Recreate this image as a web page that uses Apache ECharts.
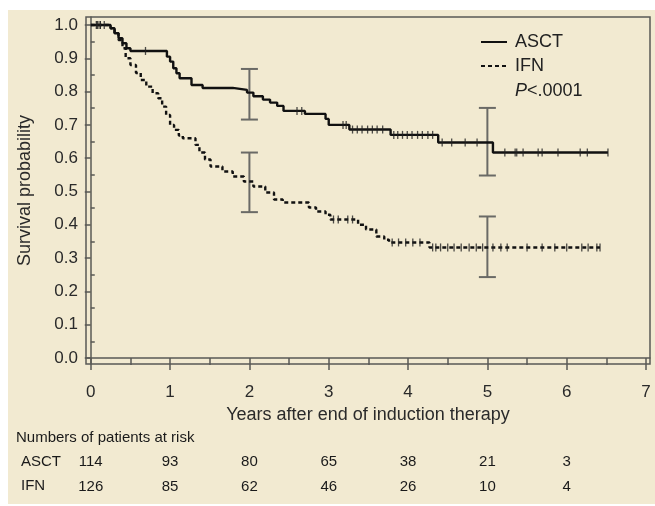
<!DOCTYPE html>
<html>
<head>
<meta charset="utf-8">
<script src="https://cdn.jsdelivr.net/npm/echarts@6/dist/echarts.min.js"></script>
<style>
  html, body { margin: 0; padding: 0; background: #fff; }
  #chart { position: absolute; left: 8px; top: 10px; width: 647px; height: 494px; background: #f2ead1; }
</style>
</head>
<body>
<div id="chart"></div>
<script>
// Kaplan-Meier steps: [years, survival after the event]
var asctSteps = [[0,1],[0.25,0.99],[0.3,0.975],[0.35,0.96],[0.4,0.945],[0.45,0.93],[0.5,0.922],
  [0.96,0.905],[1.0,0.89],[1.04,0.87],[1.08,0.855],[1.12,0.84],[1.27,0.82],[1.41,0.811],
  [1.79,0.805],[1.97,0.797],[2.05,0.786],[2.17,0.776],[2.26,0.767],[2.35,0.757],[2.43,0.742],
  [2.7,0.733],[2.96,0.718],[3.0,0.70],[3.26,0.686],[3.78,0.67],[4.38,0.647],[5.07,0.617],[6.52,0.617]];
var ifnSteps = [[0,1],[0.25,0.99],[0.3,0.975],[0.35,0.955],[0.4,0.93],[0.44,0.90],[0.5,0.88],
  [0.57,0.856],[0.63,0.835],[0.7,0.815],[0.78,0.795],[0.85,0.78],[0.9,0.755],[0.95,0.73],
  [1.0,0.70],[1.05,0.685],[1.11,0.668],[1.16,0.66],[1.32,0.64],[1.37,0.617],[1.44,0.596],
  [1.51,0.575],[1.66,0.56],[1.79,0.545],[1.93,0.53],[2.05,0.515],[2.2,0.497],[2.31,0.476],
  [2.42,0.467],[2.75,0.452],[2.84,0.44],[2.96,0.43],[3.02,0.416],[3.37,0.40],[3.47,0.386],
  [3.6,0.365],[3.7,0.355],[3.76,0.347],[4.27,0.332],[6.42,0.332]];

// censored observations (years)
var asctCensor = [0.07,0.09,0.12,0.17,0.69,2.6,2.66,3.18,3.22,3.3,3.36,3.42,3.49,3.55,3.61,3.68,
  3.82,3.87,3.93,3.99,4.05,4.12,4.18,4.25,4.31,4.43,4.55,4.72,4.87,5.22,5.35,5.37,5.45,5.64,
  5.69,5.89,6.17,6.26,6.52];
var ifnCensor = [0.08,0.12,3.06,3.12,3.24,3.3,3.8,3.88,3.97,4.06,4.15,4.31,4.35,4.41,4.5,4.58,
  4.67,4.77,4.86,4.94,5.07,5.17,5.25,5.5,5.69,5.85,6.0,6.19,6.27,6.38,6.42];

// confidence intervals: [years, low, high]
var asctCI = [[2,0.716,0.868],[5,0.548,0.751]];
var ifnCI = [[2,0.438,0.617],[5,0.243,0.425]];

var xTicks = [0,1,2,3,4,5,6,7];
var xMinor = [0.5,1.5,2.5,3.5,4.5,5.5,6.5];
var yTicks = [0,0.1,0.2,0.3,0.4,0.5,0.6,0.7,0.8,0.9,1.0];
var yMinor = [0.05,0.15,0.25,0.35,0.45,0.55,0.65,0.75,0.85,0.95];

var riskYears = [0,1,2,3,4,5,6];
var asctRisk = [114,93,80,65,38,21,3];
var ifnRisk = [126,85,62,46,26,10,4];

var FONT = "'Liberation Sans', Arial, sans-serif";
var AXIS = '#5a5a55';

function survAt(steps, t) {
  var s = steps[0][1];
  for (var i = 0; i < steps.length; i++) {
    if (steps[i][0] <= t) s = steps[i][1];
  }
  return s;
}

function riskAxis(offset, counts) {
  return {
    type: 'value', min: -0.06, max: 7.05, position: 'bottom', offset: offset,
    axisLine: { show: false }, axisTick: { show: false }, splitLine: { show: false },
    axisLabel: {
      customValues: riskYears, margin: 0, fontSize: 15, color: '#1a1a1a', fontFamily: FONT,
      formatter: function (v) { return String(counts[Math.round(v)]); }
    }
  };
}

function ciSeries(data) {
  return {
    type: 'custom', data: data, z: 3, silent: true,
    renderItem: function (params, api) {
      var lo = api.coord([api.value(0), api.value(1)]);
      var hi = api.coord([api.value(0), api.value(2)]);
      var w = 8.5;
      var st = { stroke: '#6a6a66', lineWidth: 2 };
      return {
        type: 'group',
        children: [
          { type: 'line', shape: { x1: lo[0], y1: lo[1], x2: hi[0], y2: hi[1] }, style: st },
          { type: 'line', shape: { x1: lo[0] - w, y1: lo[1], x2: lo[0] + w, y2: lo[1] }, style: st },
          { type: 'line', shape: { x1: hi[0] - w, y1: hi[1], x2: hi[0] + w, y2: hi[1] }, style: st }
        ]
      };
    }
  };
}

var chart = echarts.init(document.getElementById('chart'));
var option = {
  animation: false,
  textStyle: { fontFamily: FONT },
  grid: { left: 78, right: 5, top: 7, bottom: 140, show: true, borderColor: AXIS, borderWidth: 1.5 },
  legend: {
    data: ['ASCT', 'IFN'], orient: 'vertical', left: 472, top: 23, padding: 0,
    itemWidth: 26, itemHeight: 14, itemGap: 6,
    itemStyle: { color: 'transparent', borderColor: 'transparent', borderWidth: 0 },
    textStyle: { fontSize: 18, color: '#222', fontFamily: FONT, padding: [0, 0, 0, 3] }
  },
  xAxis: [
    {
      type: 'value', min: -0.06, max: 7.05, position: 'bottom',
      name: 'Years after end of induction therapy', nameLocation: 'middle', nameGap: 40,
      nameTextStyle: { fontSize: 18, color: '#2a2a2a', fontFamily: FONT },
      axisLine: { show: true, lineStyle: { color: AXIS, width: 1.5 } },
      axisTick: { customValues: xTicks, length: 12, lineStyle: { color: AXIS, width: 1.5 } },
      axisLabel: { customValues: xTicks, margin: 20, fontSize: 17, color: '#2a2a2a', fontFamily: FONT },
      splitLine: { show: false }
    },
    {
      type: 'value', min: -0.06, max: 7.05, position: 'bottom',
      axisLine: { show: false },
      axisTick: { customValues: xMinor, length: 7, lineStyle: { color: AXIS, width: 1.5 } },
      axisLabel: { show: false }, splitLine: { show: false }
    },
    riskAxis(90, asctRisk),
    riskAxis(115, ifnRisk)
  ],
  yAxis: [
    {
      type: 'value', min: -0.018, max: 1.024,
      name: 'Survival probability', nameLocation: 'middle', nameGap: 52,
      nameTextStyle: { fontSize: 18, color: '#2a2a2a', fontFamily: FONT },
      axisLine: { show: true, lineStyle: { color: AXIS, width: 1.5 } },
      axisTick: { customValues: yTicks, length: 6, lineStyle: { color: AXIS, width: 1.5 } },
      axisLabel: {
        customValues: yTicks, margin: 8, fontSize: 17, color: '#2a2a2a', fontFamily: FONT,
        formatter: function (v) { return v.toFixed(1); }
      },
      splitLine: { show: false }
    },
    {
      type: 'value', min: -0.018, max: 1.024,
      axisLine: { show: false },
      axisTick: { customValues: yMinor, length: 4, lineStyle: { color: AXIS, width: 1.5 } },
      axisLabel: { show: false }, splitLine: { show: false }
    }
  ],
  series: [
    ciSeries(asctCI),
    ciSeries(ifnCI),
    {
      name: 'ASCT', type: 'line', step: 'end', symbol: 'none', data: asctSteps, z: 4,
      lineStyle: { color: '#111', width: 2.4 }, itemStyle: { color: '#111' }
    },
    {
      name: 'IFN', type: 'line', step: 'end', symbol: 'none', data: ifnSteps, z: 4,
      lineStyle: { color: '#111', width: 2.4, type: [4, 3] }, itemStyle: { color: '#111' }
    },
    {
      name: 'ASCT censored', type: 'scatter', symbol: 'rect', symbolSize: [1.3, 8], z: 5,
      itemStyle: { color: '#222' },
      data: asctCensor.map(function (t) { return [t, survAt(asctSteps, t)]; })
    },
    {
      name: 'IFN censored', type: 'scatter', symbol: 'rect', symbolSize: [1.3, 8], z: 5,
      itemStyle: { color: '#222' },
      data: ifnCensor.map(function (t) { return [t, survAt(ifnSteps, t)]; })
    }
  ],
  graphic: [
    {
      type: 'text', left: 507, top: 72,
      style: {
        text: '{i|P}<.0001', fontSize: 18, fill: '#222', fontFamily: FONT,
        rich: { i: { fontStyle: 'italic', fontSize: 18, fontFamily: FONT, fill: '#222' } }
      }
    },
    { type: 'text', left: 8, top: 420, style: { text: 'Numbers of patients at risk', fontSize: 15, fill: '#1a1a1a', fontFamily: FONT } },
    { type: 'text', left: 13, top: 444, style: { text: 'ASCT', fontSize: 15, fill: '#1a1a1a', fontFamily: FONT } },
    { type: 'text', left: 13, top: 468, style: { text: 'IFN', fontSize: 15, fill: '#1a1a1a', fontFamily: FONT } }
  ]
};
chart.setOption(option);
</script>
</body>
</html>
